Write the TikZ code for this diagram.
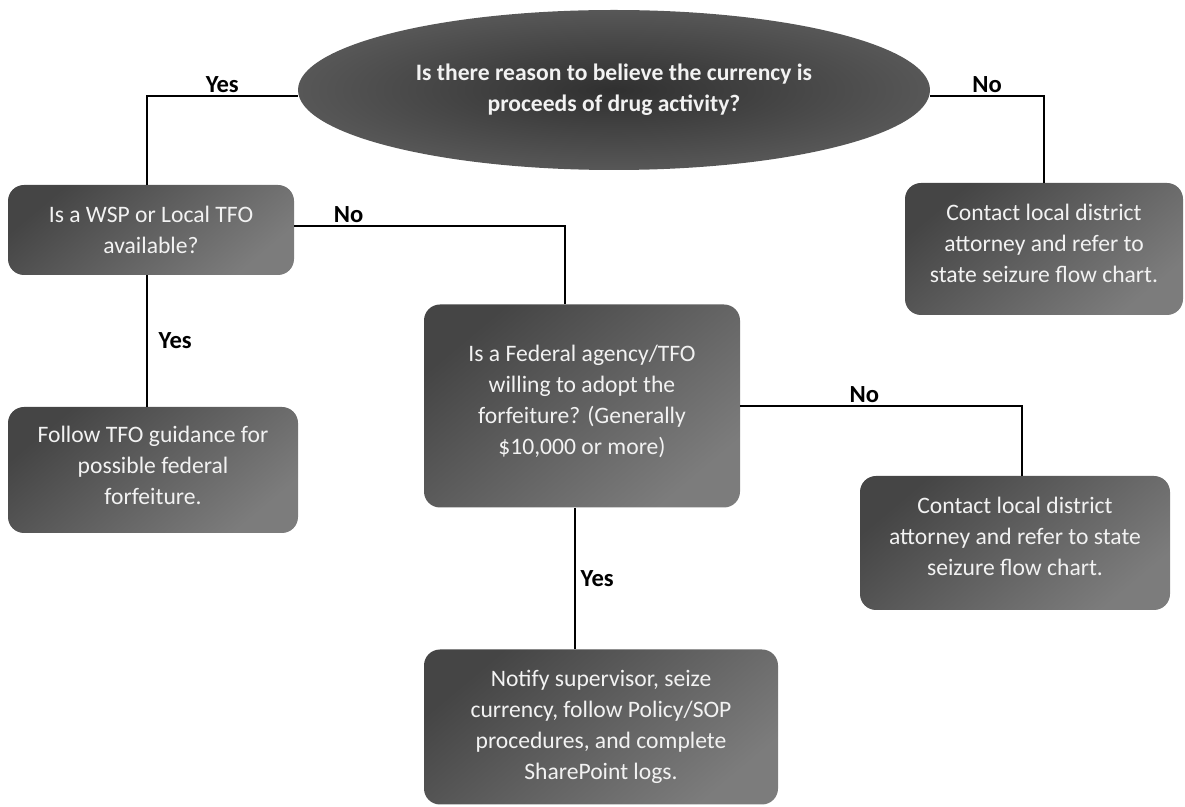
\documentclass[tikz,border=0pt]{standalone}
\usepackage{fontspec}
\setmainfont{Carlito}
\usetikzlibrary{shapes.geometric, positioning, calc}
\definecolor{fcDark}{HTML}{454545}
\definecolor{fcLight}{HTML}{7C7C7C}
\definecolor{fcCore}{HTML}{303030}
\definecolor{fcRim}{HTML}{575757}
\definecolor{fcText}{HTML}{F2F2F2}
\tikzset{
  fcbox/.style={rectangle, rounded corners=8pt, top color=fcDark, bottom color=fcLight,
    shading angle=40, draw=none, align=center, text=fcText,
    font=\fontsize{11.8}{15.5}\selectfont},
  fcoval/.style={ellipse, inner color=fcCore, outer color=fcRim, draw=none,
    align=center, text=fcText, font=\fontsize{11.8}{15.5}\selectfont\bfseries},
  fcline/.style={draw=black, line width=0.7pt},
  fclabel/.style={font=\fontsize{12.3}{13}\selectfont\bfseries, inner sep=1.5pt}
}
\begin{document}
\begin{tikzpicture}[x=0.5pt, y=-0.5pt]
  \useasboundingbox (0,0) rectangle (1185,807);
  % question at the top
  \node[fcoval, minimum width=316pt, minimum height=80pt] (drug) at (614,90)
    {Is there reason to believe the currency is\\proceeds of drug activity?};
  % boxes
  \node[fcbox, minimum width=143pt, minimum height=45pt] (wsp) at (151,230)
    {Is a WSP or Local TFO\\available?};
  \node[fcbox, minimum width=145pt, minimum height=63pt] (follow) at (153,470)
    {Follow TFO guidance for\\possible federal\\forfeiture.\\[-11pt]};
  \node[fcbox, minimum width=158pt, minimum height=101.5pt] (fed) at (582,406)
    {Is a Federal agency/TFO\\willing to adopt the\\forfeiture? (Generally\\\$10,000 or more)\\[-9pt]};
  \node[fcbox, minimum width=177pt, minimum height=77.5pt] (notify) at (601,727)
    {Notify supervisor, seize\\currency, follow Policy/SOP\\procedures, and complete\\SharePoint logs.};
  \node[fcbox, minimum width=139pt, minimum height=66pt] (stateA) at (1044,249)
    {Contact local district\\attorney and refer to\\state seizure flow chart.\\[-10pt]};
  \node[fcbox, minimum width=155pt, minimum height=67pt] (stateB) at (1015,543)
    {Contact local district\\attorney and refer to state\\seizure flow chart.\\[-9pt]};
  % connectors
  \draw[fcline] ([yshift=-3pt]drug.west) -| node[fclabel, pos=0.25, above] {Yes} ([xshift=-2pt]wsp.north);
  \draw[fcline] ([yshift=-3pt]drug.east) -| node[fclabel, pos=0.25, above] {No} (stateA.north);
  \draw[fcline] ([yshift=2pt]wsp.east) -| node[fclabel, pos=0.1, above] {No} ([xshift=-8.5pt]fed.north);
  \draw[fcline] ([xshift=-2pt]wsp.south) -- node[fclabel, right=4pt] {Yes} ([xshift=-3pt]follow.north);
  \draw[fcline] (fed.east) -| node[fclabel, pos=0.22, above] {No} ([xshift=3.5pt]stateB.north);
  \draw[fcline] ([xshift=-3.5pt]fed.south) -- node[fclabel, right=1pt] {Yes} ([xshift=-13pt]notify.north);
\end{tikzpicture}
\end{document}
